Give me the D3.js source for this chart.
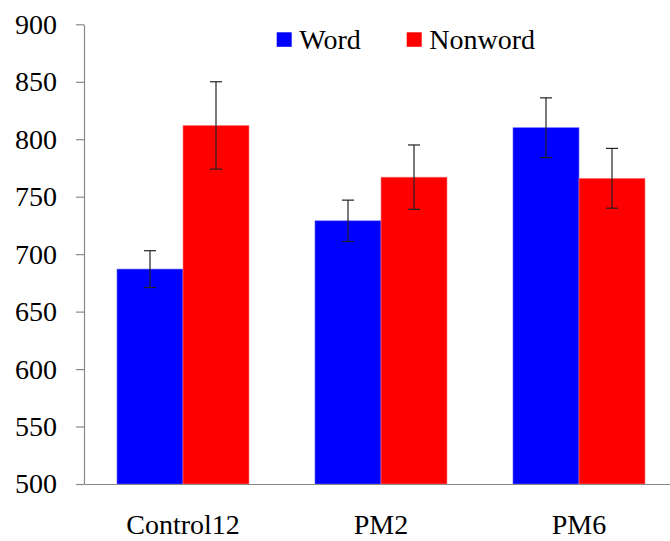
<!DOCTYPE html>
<html><head><meta charset="utf-8">
<script src="https://cdn.jsdelivr.net/npm/d3@7"></script>
<style>body{margin:0;background:#fff}svg{display:block}</style>
</head><body>
<svg id="c" width="670" height="541"></svg>
<script>
const categories = ["Control12", "PM2", "PM6"];
const seriesNames = ["Word", "Nonword"];
const wordValues = [687, 729, 810];
const nonwordValues = [812, 767, 766];
const wordErrors = [16, 18, 26];
const nonwordErrors = [38, 28, 26];
const yTicks = [500, 550, 600, 650, 700, 750, 800, 850, 900];
const colors = ["#0000ff", "#ff0000"];

(function () {
const svg = d3.select("#c");
const mLeft = 84, mTop = 24.3, mBottom = 484, mRight = 678;
const fontFam = "Liberation Serif";

const y = d3.scaleLinear().domain([500, 900]).range([mBottom, mTop]);
const x0 = d3.scaleBand().domain(categories).range([mLeft, mRight]).paddingInner(1/3).paddingOuter(1/6);
const x1 = d3.scaleBand().domain(seriesNames).range([0, x0.bandwidth()]);

const rows = categories.map((c, i) => ({c, vals: [
  {s: "Word", v: wordValues[i], e: wordErrors[i]},
  {s: "Nonword", v: nonwordValues[i], e: nonwordErrors[i]}]}));

const g = svg.append("g");
const grp = g.selectAll("g.grp").data(rows).join("g").attr("transform", d => `translate(${x0(d.c)},0)`);
grp.selectAll("rect").data(d => d.vals).join("rect")
  .attr("x", d => x1(d.s)).attr("width", x1.bandwidth())
  .attr("y", d => y(d.v)).attr("height", d => y(500) - y(d.v))
  .attr("fill", (d, i) => colors[i])
  .attr("stroke", (d, i) => i ? "#ff8080" : "#6060ff").attr("stroke-width", 0.6);

grp.selectAll("g.err").data(d => d.vals).join("g").each(function(d) {
  const cx = x1(d.s) + x1.bandwidth() / 2;
  const s = d3.select(this).attr("stroke", "#222").attr("stroke-width", 1.2);
  s.append("line").attr("x1", cx).attr("x2", cx).attr("y1", y(d.v + d.e)).attr("y2", y(d.v - d.e));
  s.append("line").attr("x1", cx - 6).attr("x2", cx + 6).attr("y1", y(d.v + d.e)).attr("y2", y(d.v + d.e));
  s.append("line").attr("x1", cx - 6).attr("x2", cx + 6).attr("y1", y(d.v - d.e)).attr("y2", y(d.v - d.e));
});

const ya = svg.append("g").attr("transform", `translate(${mLeft},0)`)
  .call(d3.axisLeft(y).tickValues(yTicks).tickSize(8).tickPadding(19).tickSizeOuter(0));
ya.attr("font-family", fontFam).attr("font-size", 28);
ya.select(".domain").attr("stroke", "#888").attr("stroke-width", 1.2);
ya.selectAll(".tick line").attr("stroke", "#888").attr("stroke-width", 1.2);
ya.selectAll("text").style("font-family", fontFam).attr("fill", "#000");

const xa = svg.append("g").attr("transform", `translate(0,${mBottom})`)
  .call(d3.axisBottom(x0).tickSize(0).tickPadding(30).tickSizeOuter(0));
xa.attr("font-family", fontFam).attr("font-size", 28);
xa.select(".domain").attr("stroke", "#888").attr("stroke-width", 1.2);
xa.selectAll("text").style("font-family", fontFam).attr("fill", "#000");

const legX = [276.7, 406.7];
const leg = svg.append("g").selectAll("g").data(seriesNames).join("g")
  .attr("transform", (d, i) => `translate(${legX[i]},32.3)`);
leg.append("rect").attr("width", 15).attr("height", 14.5).attr("fill", (d, i) => colors[i]);
leg.append("text").attr("x", 22.5).attr("y", 17).text(d => d)
  .style("font-family", fontFam).attr("font-size", 28).attr("fill", "#000");
})();
</script>
</body></html>
